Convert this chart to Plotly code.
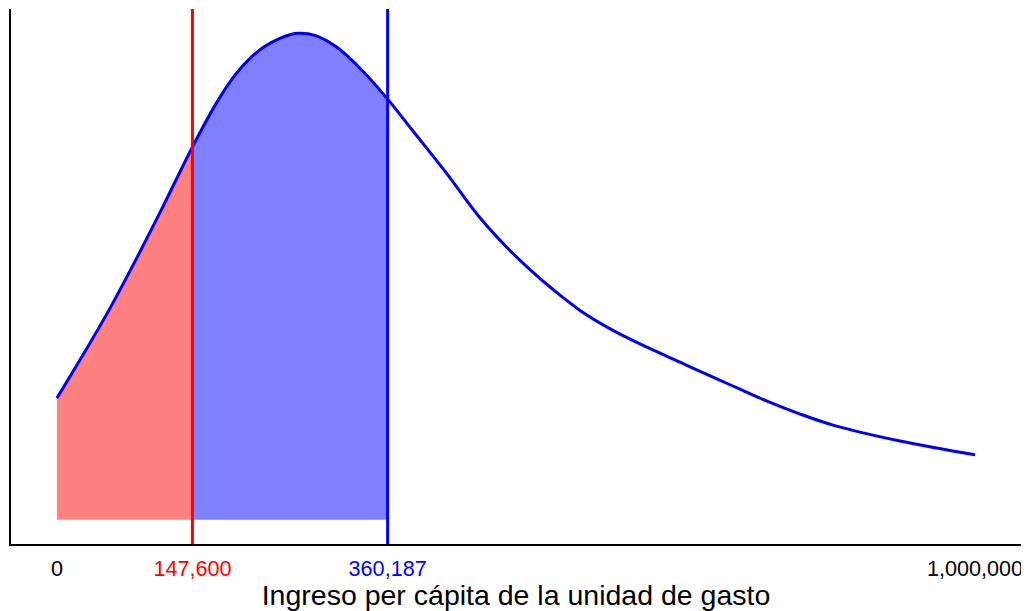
import plotly.graph_objects as go

# Income (pesos) and estimated density (x 1e-6, arbitrary units)
income = [0, 29412, 57734, 87146, 115468, 147600, 174292, 193900, 210240,
          226580, 242919, 261438, 281046, 305011, 333333, 360187, 387800,
          424837, 460784, 490196, 515251, 540305, 569717, 605664, 642702,
          678649, 714597, 744009, 773420, 809368, 845316, 918301, 1000000]
density = [0.4575, 0.626, 0.795, 0.986, 1.178, 1.4025, 1.571, 1.6725, 1.736,
           1.781, 1.811, 1.830, 1.8225, 1.7775, 1.6875, 1.5825, 1.4625,
           1.301, 1.136, 1.024, 0.941, 0.866, 0.7875, 0.7125, 0.649,
           0.5925, 0.536, 0.491, 0.446, 0.3975, 0.356, 0.296, 0.244]

thresholds = [147600, 360187]
threshold_colors = ["#FF0000", "#0000FF"]
fill_colors = ["#FF8080", "#8080FF"]

tick_vals = [0, 147600, 360187, 1000000]
tick_text = ["0",
             '<span style="color:#FF0000">147,600</span>',
             '<span style="color:#0000FF">360,187</span>',
             "1,000,000"]

x_title = "Ingreso per cápita de la unidad de gasto"

fig = go.Figure()

# filled areas
bounds = [0] + thresholds
for i in range(len(thresholds)):
    lo, hi = bounds[i], bounds[i + 1]
    xs = [x for x in income if lo <= x <= hi]
    ys = [y for x, y in zip(income, density) if lo <= x <= hi]
    fig.add_trace(go.Scatter(
        x=xs, y=ys, mode="lines", fill="tozeroy",
        fillcolor=fill_colors[i],
        line=dict(width=0, shape="spline", smoothing=1.0),
        hoverinfo="skip", showlegend=False))

# density curve
fig.add_trace(go.Scatter(
    x=income, y=density, mode="lines",
    line=dict(color="#0000F0", width=3, shape="spline", smoothing=1.0),
    showlegend=False))

for t, c in zip(thresholds, threshold_colors):
    fig.add_vline(x=t, line=dict(color=c, width=3))

ymax = max(density)
fig.update_layout(
    width=1021, height=603,
    margin=dict(l=3, r=8, t=1, b=67),
    plot_bgcolor="white", paper_bgcolor="white",
    font=dict(family="Liberation Sans, Arial, sans-serif", color="black"),
    xaxis=dict(
        range=[-50000, 1050000],
        tickvals=tick_vals, ticktext=tick_text,
        tickfont=dict(size=21.6, color="black"),
        showgrid=False, zeroline=False,
        showline=True, linecolor="black", linewidth=2,
        ticks="", ticklabelstandoff=4, ticklabeloverflow="allow",
        title=dict(text=x_title, font=dict(size=28.5, color="black"), standoff=0),
        automargin=False,
    ),
    yaxis=dict(
        range=[-0.05 * ymax, 1.05 * ymax],
        showticklabels=False, showgrid=False, zeroline=False,
        showline=True, linecolor="black", linewidth=2, ticks="",
    ),
)

fig.write_html("out.html")
